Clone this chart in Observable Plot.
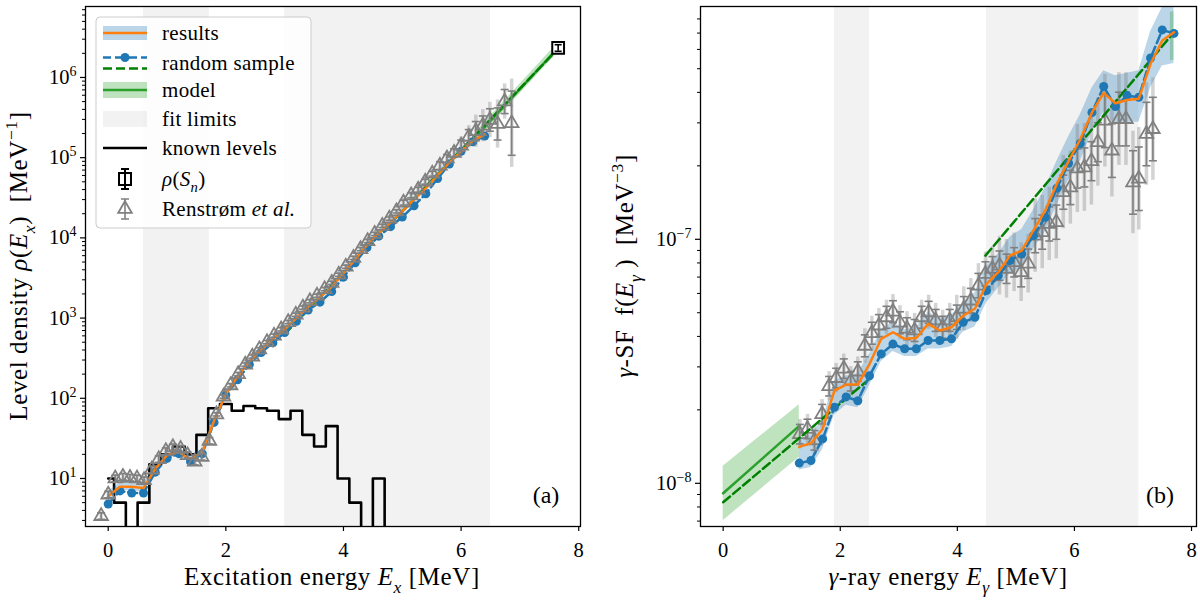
<!DOCTYPE html>
<html>
<head>
<meta charset="utf-8">
<script src="https://cdn.jsdelivr.net/npm/d3@7"></script>
<script src="https://cdn.jsdelivr.net/npm/@observablehq/plot@0.6"></script>
<style>
  html, body { margin: 0; padding: 0; background: #fff; }
  #figure { display: flex; width: 1200px; height: 600px; }
  #figure svg { display: block; }
</style>
</head>
<body>
<div id="figure"></div>
<script>
// ---------- shared styling ----------
const FONT = '"Liberation Serif", "DejaVu Serif", "Times New Roman", serif';
const TAB_BLUE = "#1f77b4", TAB_ORANGE = "#ff7f0e", TAB_GREEN = "#2ca02c", GREEN = "#008000", GRAY = "#808080";

// ---------- (a) level density ----------
// Renstrøm et al. level density (MeV^-1) with statistical / total uncertainty in dex
const ldTriE = [-0.12, 0.00, 0.12, 0.25, 0.37, 0.49, 0.61, 0.74, 0.86, 0.98, 1.10, 1.23, 1.35, 1.47, 1.59, 1.72, 1.84, 1.96, 2.08, 2.21, 2.33, 2.45, 2.57, 2.70, 2.82, 2.94, 3.06, 3.19, 3.31, 3.43, 3.55, 3.68, 3.80, 3.92, 4.04, 4.17, 4.29, 4.41, 4.53, 4.66, 4.78, 4.90, 5.02, 5.15, 5.27, 5.39, 5.51, 5.64, 5.76, 5.88, 6.00, 6.13, 6.25, 6.37, 6.49, 6.62, 6.74, 6.86];
const ldTriRho = [3.4, 6.3, 10, 10.5, 10.2, 10, 9.5, 12.9, 17.4, 21.9, 24.5, 23.4, 19.5, 16.2, 18.6, 29.5, 63, 105, 145, 200, 263, 331, 407, 501, 603, 724, 891, 1100, 1350, 1620, 1900, 2290, 2750, 3470, 4370, 5620, 7240, 9120, 1.12e4, 1.41e4, 1.74e4, 2.14e4, 2.75e4, 3.39e4, 3.98e4, 5.01e4, 6.31e4, 7.94e4, 9.77e4, 1.15e5, 1.41e5, 1.82e5, 2.14e5, 2.51e5, 2.95e5, 2.63e5, 5.01e5, 2.69e5];
const ldTriErr = [0.04, 0.04, 0.04, 0.04, 0.04, 0.04, 0.04, 0.04, 0.04, 0.04, 0.04, 0.04, 0.04, 0.04, 0.04, 0.04, 0.02, 0.02, 0.02, 0.02, 0.02, 0.02, 0.02, 0.02, 0.02, 0.02, 0.02, 0.02, 0.02, 0.02, 0.02, 0.02, 0.02, 0.02, 0.02, 0.02, 0.02, 0.02, 0.02, 0.02, 0.02, 0.02, 0.03, 0.03, 0.03, 0.03, 0.03, 0.05, 0.05, 0.05, 0.07, 0.09, 0.12, 0.12, 0.14, 0.20, 0.15, 0.40];
const ldTriErrTot = [0.05, 0.05, 0.05, 0.05, 0.05, 0.05, 0.05, 0.05, 0.05, 0.05, 0.05, 0.05, 0.05, 0.05, 0.05, 0.05, 0.03, 0.03, 0.03, 0.03, 0.03, 0.03, 0.03, 0.03, 0.03, 0.03, 0.03, 0.03, 0.03, 0.03, 0.03, 0.03, 0.03, 0.03, 0.03, 0.03, 0.03, 0.03, 0.03, 0.03, 0.03, 0.03, 0.05, 0.05, 0.05, 0.05, 0.05, 0.08, 0.08, 0.08, 0.11, 0.14, 0.20, 0.20, 0.22, 0.30, 0.22, 0.55];

// extracted level density: result, its uncertainty (dex) and one random sample
const ldResE = [0.0, 0.2, 0.4, 0.6, 0.8, 1.0, 1.2, 1.4, 1.6, 1.8, 2.0, 2.2, 2.4, 2.6, 2.8, 3.0, 3.2, 3.4, 3.6, 3.8, 4.0, 4.2, 4.4, 4.6, 4.8, 5.0, 5.2, 5.4, 5.6, 5.8, 6.0, 6.2, 6.4];
const ldResRho = [6.0, 7.9, 7.9, 7.6, 13.2, 19.5, 21.4, 17.4, 21.4, 52.5, 112, 186, 288, 407, 550, 724, 1000, 1380, 1820, 2450, 3630, 5370, 8130, 1.15e4, 1.55e4, 2.14e4, 3.02e4, 4.17e4, 6.03e4, 8.71e4, 1.20e5, 1.62e5, 1.95e5];
const ldResErr = [0.06, 0.05, 0.05, 0.05, 0.05, 0.04, 0.04, 0.04, 0.04, 0.04, 0.04, 0.03, 0.03, 0.03, 0.03, 0.03, 0.03, 0.03, 0.03, 0.03, 0.03, 0.03, 0.03, 0.03, 0.04, 0.04, 0.04, 0.04, 0.04, 0.04, 0.04, 0.04, 0.05];
const ldSampleRho = [4.8, 7.0, 6.6, 6.6, 12.0, 17.8, 20.4, 16.2, 20.4, 50, 110, 170, 263, 372, 490, 661, 912, 1260, 1580, 2140, 3240, 4900, 7590, 1.05e4, 1.38e4, 1.82e4, 2.51e4, 3.55e4, 5.50e4, 8.32e4, 1.20e5, 1.58e5, 1.86e5];

// known discrete levels, per MeV, in 0.2 MeV bins
const levelBinE = [0.0, 0.2, 0.4, 0.6, 0.8, 1.0, 1.2, 1.4, 1.6, 1.8, 2.0, 2.2, 2.4, 2.6, 2.8, 3.0, 3.2, 3.4, 3.6, 3.8, 4.0, 4.2, 4.4, 4.6, 4.8];
const levelCounts = [10, 5, 0, 5, 15, 20, 25, 20, 35, 75, 85, 70, 80, 75, 70, 55, 70, 35, 25, 45, 10, 5, 0, 10, 0];

// constant-temperature model and its random-sample counterpart
const ldModelE = [6.3, 7.65];
const ldModelRho = [2.0e5, 2.34e6];
const ldModelLo = [1.75e5, 2.05e6];
const ldModelHi = [2.3e5, 2.7e6];
const ldSampleModelE = [3.0, 7.65];
const ldSampleModelRho = [631, 2.29e6];

// level density at the neutron separation energy
const rhoSnE = [7.65];
const rhoSn = [2.34e6];
const rhoSnErr = [2.2e5];

// fit windows
const ldFitLo = [0.6, 3.0];
const ldFitHi = [1.72, 6.5];

// ---------- (b) gamma strength function ----------
const gsfTriE = [1.31, 1.44, 1.56, 1.69, 1.81, 1.93, 2.06, 2.18, 2.30, 2.42, 2.54, 2.66, 2.79, 2.90, 3.02, 3.14, 3.27, 3.39, 3.51, 3.63, 3.75, 3.87, 3.99, 4.11, 4.23, 4.36, 4.48, 4.60, 4.72, 4.84, 4.97, 5.09, 5.21, 5.33, 5.45, 5.57, 5.69, 5.81, 5.93, 6.05, 6.17, 6.29, 6.40, 6.52, 6.64, 6.76, 6.88, 7.00, 7.10, 7.23, 7.34];
const gsfTri = [1.59e-8, 1.67e-8, 1.50e-8, 1.92e-8, 2.50e-8, 2.70e-8, 2.95e-8, 2.62e-8, 2.87e-8, 3.66e-8, 4.12e-8, 4.43e-8, 4.79e-8, 5.05e-8, 4.55e-8, 4.30e-8, 4.23e-8, 4.79e-8, 5.02e-8, 4.65e-8, 4.36e-8, 4.65e-8, 4.79e-8, 5.19e-8, 5.61e-8, 6.46e-8, 7.21e-8, 7.57e-8, 7.80e-8, 7.57e-8, 8.05e-8, 7.33e-8, 7.94e-8, 1.035e-7, 1.07e-7, 1.156e-7, 1.175e-7, 1.56e-7, 1.63e-7, 1.95e-7, 1.97e-7, 2.09e-7, 2.50e-7, 3.06e-7, 2.31e-7, 3.11e-7, 3.11e-7, 1.71e-7, 1.77e-7, 2.70e-7, 2.83e-7];
const gsfTriErr = [0.04, 0.04, 0.04, 0.04, 0.04, 0.04, 0.04, 0.04, 0.04, 0.045, 0.045, 0.045, 0.045, 0.045, 0.045, 0.045, 0.045, 0.045, 0.045, 0.045, 0.045, 0.045, 0.05, 0.05, 0.05, 0.05, 0.05, 0.05, 0.06, 0.06, 0.06, 0.06, 0.06, 0.07, 0.07, 0.07, 0.07, 0.07, 0.07, 0.08, 0.08, 0.08, 0.08, 0.11, 0.11, 0.11, 0.11, 0.13, 0.13, 0.13, 0.13];
const gsfTriErrTot = [0.06, 0.06, 0.06, 0.06, 0.06, 0.06, 0.06, 0.06, 0.06, 0.07, 0.07, 0.07, 0.07, 0.07, 0.07, 0.07, 0.07, 0.07, 0.07, 0.07, 0.07, 0.07, 0.09, 0.09, 0.09, 0.09, 0.09, 0.09, 0.12, 0.12, 0.12, 0.12, 0.12, 0.15, 0.15, 0.15, 0.15, 0.15, 0.15, 0.18, 0.18, 0.18, 0.18, 0.19, 0.19, 0.19, 0.19, 0.21, 0.21, 0.21, 0.21];

const gsfResE = [1.3, 1.5, 1.7, 1.9, 2.1, 2.3, 2.5, 2.7, 2.9, 3.1, 3.3, 3.5, 3.7, 3.9, 4.1, 4.3, 4.5, 4.7, 4.9, 5.1, 5.3, 5.5, 5.7, 5.9, 6.1, 6.3, 6.5, 6.7, 6.9, 7.1, 7.3, 7.5, 7.7];
const gsfRes = [1.41e-8, 1.46e-8, 1.67e-8, 2.40e-8, 2.54e-8, 2.54e-8, 3.08e-8, 3.91e-8, 4.16e-8, 3.91e-8, 3.94e-8, 4.50e-8, 4.23e-8, 4.36e-8, 4.86e-8, 5.19e-8, 6.56e-8, 7.33e-8, 8.57e-8, 8.99e-8, 1.087e-7, 1.31e-7, 1.69e-7, 2.09e-7, 2.57e-7, 3.31e-7, 3.98e-7, 3.61e-7, 3.72e-7, 3.77e-7, 5.24e-7, 6.52e-7, 7.05e-7];
const gsfResLo = [1.135e-8, 1.16e-8, 1.38e-8, 1.905e-8, 2.09e-8, 2.04e-8, 2.51e-8, 3.16e-8, 3.47e-8, 3.31e-8, 3.31e-8, 3.55e-8, 3.55e-8, 3.63e-8, 4.17e-8, 4.37e-8, 5.50e-8, 6.31e-8, 7.24e-8, 7.59e-8, 9.12e-8, 1.072e-7, 1.38e-7, 1.74e-7, 2.09e-7, 2.75e-7, 3.31e-7, 2.95e-7, 3.02e-7, 3.02e-7, 4.17e-7, 5.13e-7, 5.25e-7];
const gsfResHi = [1.496e-8, 1.585e-8, 1.82e-8, 2.63e-8, 2.75e-8, 2.82e-8, 3.39e-8, 4.27e-8, 4.57e-8, 4.27e-8, 4.37e-8, 5.01e-8, 4.79e-8, 4.90e-8, 5.50e-8, 6.03e-8, 7.76e-8, 8.71e-8, 1.023e-7, 1.096e-7, 1.318e-7, 1.622e-7, 2.09e-7, 2.63e-7, 3.24e-7, 4.17e-7, 4.90e-7, 4.68e-7, 4.79e-7, 4.90e-7, 7.08e-7, 8.91e-7, 9.55e-7];
const gsfSample = [1.21e-8, 1.24e-8, 1.52e-8, 2.05e-8, 2.26e-8, 2.18e-8, 2.76e-8, 3.39e-8, 3.72e-8, 3.56e-8, 3.56e-8, 3.85e-8, 3.85e-8, 3.91e-8, 4.57e-8, 4.79e-8, 6.17e-8, 7.10e-8, 8.18e-8, 8.71e-8, 1.035e-7, 1.23e-7, 1.62e-7, 2.05e-7, 2.47e-7, 3.31e-7, 4.23e-7, 3.50e-7, 3.88e-7, 3.82e-7, 5.53e-7, 7.21e-7, 6.98e-7];

// model strength (extrapolations) and random-sample model
const gsfModelE = [0.0, 1.3, 7.64, 7.70];
const gsfModel = [9.1e-9, 1.72e-8, 6.9e-7, 7.0e-7];
const gsfModelLo = [7.03e-9, 1.28e-8, 5.4e-7, 5.4e-7];
const gsfModelHi = [1.175e-8, 2.10e-8, 8.5e-7, 8.6e-7];
const gsfModelPart = ["low", "low", "high", "high"];
const gsfSampleModelE = [0.0, 2.5, 4.48, 7.7];
const gsfSampleModel = [8.36e-9, 2.68e-8, 8.57e-8, 7.05e-7];
const gsfSampleModelPart = ["low", "low", "high", "high"];

const gsfFitLo = [1.9, 4.5];
const gsfFitHi = [2.5, 7.1];

// ---------- helpers ----------
const rows = (cols) => {
  const keys = Object.keys(cols);
  return cols[keys[0]].map((_, i) => Object.fromEntries(keys.map(k => [k, cols[k][i]])));
};
// horizontal bar used as an error-bar cap
const capSymbol = { draw(ctx, size) { const w = Math.sqrt(size / Math.PI); ctx.moveTo(-w, 0); ctx.lineTo(w, 0); } };

function minorTicks(lo, hi) {
  const out = [];
  for (let e = Math.floor(Math.log10(lo)); e <= Math.ceil(Math.log10(hi)); e++)
    for (let m = 2; m <= 9; m++) { const v = m * 10 ** e; if (v >= lo && v <= hi) out.push(v); }
  return out;
}
const powFormat = d => `10^${Math.round(Math.log10(d)).toString().replace("-", "\u2212")}`;

function errorBars(data, {x, y, dex, tot, color}) {
  return [
    Plot.ruleX(data, {x, y1: d => d[y] / 10 ** d[tot], y2: d => d[y] * 10 ** d[tot], stroke: color, strokeOpacity: 0.35, strokeWidth: 3.5}),
    Plot.ruleX(data, {x, y1: d => d[y] / 10 ** d[dex], y2: d => d[y] * 10 ** d[dex], stroke: color, strokeWidth: 1.6}),
    Plot.dot(data, {x, y: d => d[y] / 10 ** d[dex], symbol: capSymbol, r: 4, stroke: color, fill: "none", strokeWidth: 1.6}),
    Plot.dot(data, {x, y: d => d[y] * 10 ** d[dex], symbol: capSymbol, r: 4, stroke: color, fill: "none", strokeWidth: 1.6}),
    Plot.dot(data, {x, y, symbol: "triangle2", r: 6.5, stroke: color, fill: "none", strokeWidth: 1.8})
  ];
}

function axes(ticksMajor, yDomain) {
  return [
    Plot.axisX({ticks: [0, 2, 4, 6, 8], tickSize: 5, tickPadding: 11, tickFormat: d => String(d), label: null, strokeWidth: 1.2}),
    Plot.axisY({ticks: ticksMajor, tickSize: 5, tickPadding: 4, tickFormat: powFormat, label: null, strokeWidth: 1.2}),
    Plot.axisY({ticks: minorTicks(yDomain[0], yDomain[1]).filter(v => !ticksMajor.includes(v)), tickSize: 3, tickFormat: () => "", label: null, strokeWidth: 1}),
    Plot.frame({stroke: "black", strokeWidth: 1.3})
  ];
}

// rich text with italic / sub / superscript runs
function rich(g, x, y, parts, {size = 21, anchor = "start", rotate = 0, spacing = 0} = {}) {
  const t = g.append("text").attr("x", x).attr("y", y).attr("font-size", size)
    .attr("text-anchor", anchor).attr("font-family", FONT).attr("fill", "black")
    .style("white-space", "pre");
  if (spacing) t.attr("letter-spacing", spacing);
  if (rotate) t.attr("transform", `rotate(${rotate},${x},${y})`);
  let shift = 0;
  for (const p of parts) {
    const s = p.sub ? 0.3 * size : p.sup ? -0.4 * size : 0;
    const ts = t.append("tspan").text(p.t);
    if (s !== shift) ts.attr("dy", s - shift);
    shift = s;
    if (p.sub || p.sup) ts.attr("font-size", size * 0.7);
    if (p.i) ts.attr("font-style", "italic");
  }
  return t;
}

function superscriptTicks(svg) {
  d3.select(svg).selectAll('g[aria-label="y-axis tick label"] text').each(function () {
    const s = this.textContent;
    if (!s.includes("^")) return;
    const [b, e] = s.split("^");
    const t = d3.select(this);
    t.text("");
    t.append("tspan").text(b);
    t.append("tspan").attr("dy", -8).attr("font-size", 14).text(e);
  });
}

const STYLE = {fontFamily: FONT, fontSize: "20.5px", background: "transparent", color: "black"};

// ---------- panel (a) ----------
const yA = [2.52, 7.67e6];
const fitA = rows({lo: ldFitLo, hi: ldFitHi});
const levels = rows({E: levelBinE, n: levelCounts});
const ldTri = rows({E: ldTriE, rho: ldTriRho, err: ldTriErr, tot: ldTriErrTot});
const ldRes = rows({E: ldResE, rho: ldResRho, err: ldResErr, sample: ldSampleRho});
const ldModel = rows({E: ldModelE, rho: ldModelRho, lo: ldModelLo, hi: ldModelHi});
const ldSampleModel = rows({E: ldSampleModelE, rho: ldSampleModelRho});
const sn = rows({E: rhoSnE, rho: rhoSn, err: rhoSnErr});

const left = Plot.plot({
  width: 600, height: 600,
  marginLeft: 85, marginRight: 20, marginTop: 6, marginBottom: 74,
  style: STYLE,
  x: {domain: [-0.386, 8.03], label: null},
  y: {type: "log", domain: yA, label: null},
  marks: [
    Plot.rect(fitA, {x1: "lo", x2: "hi", fill: GRAY, fillOpacity: 0.1}),
    // empty bins drop below the frame
    Plot.line(levels, {x: "E", y: d => (d.n > 0 ? d.n : 0.01), curve: "step", stroke: "black", strokeWidth: 2.6, clip: true}),
    Plot.areaY(ldRes, {x: "E", y1: d => d.rho / 10 ** d.err, y2: d => d.rho * 10 ** d.err, fill: TAB_BLUE, fillOpacity: 0.3}),
    Plot.areaY(ldModel, {x: "E", y1: "lo", y2: "hi", fill: TAB_GREEN, fillOpacity: 0.3}),
    Plot.line(ldModel, {x: "E", y: "rho", stroke: TAB_GREEN, strokeWidth: 2.5}),
    Plot.line(ldSampleModel, {x: "E", y: "rho", stroke: GREEN, strokeWidth: 2.5, strokeDasharray: "9,4"}),
    Plot.line(ldRes, {x: "E", y: "sample", stroke: TAB_BLUE, strokeWidth: 2.5, strokeDasharray: "9,4"}),
    Plot.dot(ldRes, {x: "E", y: "sample", fill: TAB_BLUE, r: 4.5}),
    Plot.line(ldRes, {x: "E", y: "rho", stroke: TAB_ORANGE, strokeWidth: 2.5}),
    ...errorBars(ldTri, {x: "E", y: "rho", dex: "err", tot: "tot", color: GRAY}),
    Plot.dot(sn, {x: "E", y: "rho", symbol: "square2", r: 7.5, stroke: "black", fill: "white", strokeWidth: 2}),
    Plot.ruleX(sn, {x: "E", y1: d => d.rho - d.err, y2: d => d.rho + d.err, stroke: "black", strokeWidth: 1.6}),
    Plot.dot(sn, {x: "E", y: d => d.rho - d.err, symbol: capSymbol, r: 3.5, stroke: "black", fill: "none", strokeWidth: 1.6}),
    Plot.dot(sn, {x: "E", y: d => d.rho + d.err, symbol: capSymbol, r: 3.5, stroke: "black", fill: "none", strokeWidth: 1.6}),
    ...axes([1e1, 1e2, 1e3, 1e4, 1e5, 1e6], yA)
  ]
});

// ---------- panel (b) ----------
const yB = [10 ** -8.177, 10 ** -6.046];
const fitB = rows({lo: gsfFitLo, hi: gsfFitHi});
const gsfTriRows = rows({E: gsfTriE, f: gsfTri, err: gsfTriErr, tot: gsfTriErrTot});
const gsfResRows = rows({E: gsfResE, f: gsfRes, lo: gsfResLo, hi: gsfResHi, sample: gsfSample});
const gsfModelRows = rows({E: gsfModelE, f: gsfModel, lo: gsfModelLo, hi: gsfModelHi, part: gsfModelPart});
const gsfSampleModelRows = rows({E: gsfSampleModelE, f: gsfSampleModel, part: gsfSampleModelPart});

const right = Plot.plot({
  width: 600, height: 600,
  marginLeft: 100, marginRight: 4, marginTop: 6, marginBottom: 74,
  style: STYLE,
  x: {domain: [-0.387, 8.085], label: null},
  y: {type: "log", domain: yB, label: null},
  marks: [
    Plot.rect(fitB, {x1: "lo", x2: "hi", fill: GRAY, fillOpacity: 0.1}),
    Plot.areaY(gsfResRows, {x: "E", y1: "lo", y2: "hi", fill: TAB_BLUE, fillOpacity: 0.3, clip: true}),
    Plot.areaY(gsfModelRows, {x: "E", y1: "lo", y2: "hi", z: "part", fill: TAB_GREEN, fillOpacity: 0.3, clip: true}),
    Plot.line(gsfModelRows, {x: "E", y: "f", z: "part", stroke: TAB_GREEN, strokeWidth: 2.5}),
    ...errorBars(gsfTriRows, {x: "E", y: "f", dex: "err", tot: "tot", color: GRAY}),
    Plot.line(gsfSampleModelRows, {x: "E", y: "f", z: "part", stroke: GREEN, strokeWidth: 2.5, strokeDasharray: "9,4"}),
    Plot.line(gsfResRows, {x: "E", y: "sample", stroke: TAB_BLUE, strokeWidth: 2.5, strokeDasharray: "9,4"}),
    Plot.dot(gsfResRows, {x: "E", y: "sample", fill: TAB_BLUE, r: 4.5}),
    Plot.line(gsfResRows, {x: "E", y: "f", stroke: TAB_ORANGE, strokeWidth: 2.5}),
    ...axes([1e-8, 1e-7], yB)
  ]
});

superscriptTicks(left);
superscriptTicks(right);

// ---------- titles, panel tags, legend ----------
const NB = "\u00A0";
const gl = d3.select(left).append("g");
rich(gl, 332, 585, [{t: "Excitation energy "}, {t: "E", i: true}, {t: "x", i: true, sub: true}, {t: " [MeV]"}], {anchor: "middle", size: 25, spacing: 0.6});
rich(gl, 27, 266, [{t: "Level density "}, {t: "\u03C1", i: true}, {t: "("}, {t: "E", i: true}, {t: "x", i: true, sub: true}, {t: ")" + NB + NB + "[MeV"}, {t: "\u22121", sup: true}, {t: "]"}], {anchor: "middle", rotate: -90, size: 25, spacing: 0.6});
rich(gl, 546, 503, [{t: "(a)"}], {anchor: "middle", size: 24});

const gr = d3.select(right).append("g");
rich(gr, 348, 585, [{t: "\u03B3", i: true}, {t: "-ray energy "}, {t: "E", i: true}, {t: "\u03B3", i: true, sub: true}, {t: " [MeV]"}], {anchor: "middle", size: 25, spacing: 0.6});
rich(gr, 33, 266, [{t: "\u03B3", i: true}, {t: "-SF" + NB + NB + "f("}, {t: "E", i: true}, {t: "\u03B3", i: true, sub: true}, {t: NB + ")" + NB + NB + "[MeV"}, {t: "\u22123", sup: true}, {t: "]"}], {anchor: "middle", rotate: -90, size: 25, spacing: 0.6});
rich(gr, 560, 503, [{t: "(b)"}], {anchor: "middle", size: 24});

// legend
const lg = d3.select(left).append("g");
lg.append("rect").attr("x", 96).attr("y", 17).attr("width", 215).attr("height", 211).attr("rx", 4)
  .attr("fill", "white").attr("fill-opacity", 0.8).attr("stroke", "#cccccc").attr("stroke-width", 1);
const hx0 = 103, hx1 = 147, hc = 125, tx = 162;
const rowY = [33, 62.5, 90, 119, 148, 179, 209];
const line = (y, color, dash, w = 2.5) => lg.append("line").attr("x1", hx0).attr("x2", hx1).attr("y1", y).attr("y2", y)
  .attr("stroke", color).attr("stroke-width", w).attr("stroke-dasharray", dash || null);
// results
lg.append("rect").attr("x", hx0).attr("y", rowY[0] - 7).attr("width", hx1 - hx0).attr("height", 14).attr("fill", TAB_BLUE).attr("fill-opacity", 0.3);
line(rowY[0], TAB_ORANGE);
// random sample
lg.append("line").attr("x1", hx0).attr("x2", hx1).attr("y1", rowY[1] - 5).attr("y2", rowY[1] - 5)
  .attr("stroke", TAB_BLUE).attr("stroke-width", 2.5).attr("stroke-dasharray", "9,4").attr("stroke-dashoffset", 1);
lg.append("circle").attr("cx", hc).attr("cy", rowY[1] - 5).attr("r", 4.5).attr("fill", TAB_BLUE);
line(rowY[1] + 6, GREEN, "9,4");
// model
lg.append("rect").attr("x", hx0).attr("y", rowY[2] - 8).attr("width", hx1 - hx0).attr("height", 16).attr("fill", TAB_GREEN).attr("fill-opacity", 0.3);
line(rowY[2], TAB_GREEN);
// fit limits
lg.append("rect").attr("x", hx0).attr("y", rowY[3] - 8).attr("width", hx1 - hx0).attr("height", 16).attr("fill", GRAY).attr("fill-opacity", 0.1);
// known levels
line(rowY[4], "black");
// rho(Sn)
lg.append("rect").attr("x", hc - 6).attr("y", rowY[5] - 6).attr("width", 12).attr("height", 12).attr("fill", "white").attr("stroke", "black").attr("stroke-width", 2);
lg.append("path").attr("d", `M${hc},${rowY[5] - 10}V${rowY[5] + 10}M${hc - 4},${rowY[5] - 10}H${hc + 4}M${hc - 4},${rowY[5] + 10}H${hc + 4}`)
  .attr("stroke", "black").attr("stroke-width", 2).attr("fill", "none");
// Renstrøm
lg.append("path").attr("d", `M${hc},${rowY[6] - 10}V${rowY[6] + 10}M${hc - 4},${rowY[6] - 10}H${hc + 4}M${hc - 4},${rowY[6] + 10}H${hc + 4}`)
  .attr("stroke", GRAY).attr("stroke-width", 1.6).attr("fill", "none");
lg.append("path").attr("d", d3.symbol(d3.symbolTriangle2, Math.PI * 6.5 * 6.5)()).attr("transform", `translate(${hc},${rowY[6]})`)
  .attr("stroke", GRAY).attr("stroke-width", 1.8).attr("fill", "none");

const labels = [
  [{t: "results"}],
  [{t: "random sample"}],
  [{t: "model"}],
  [{t: "fit limits"}],
  [{t: "known levels"}],
  [{t: "\u03C1", i: true}, {t: "("}, {t: "S", i: true}, {t: "n", i: true, sub: true}, {t: ")"}],
  [{t: "Renstr\u00F8m "}, {t: "et al.", i: true}]
];
labels.forEach((parts, i) => rich(lg, tx, rowY[i] + 7, parts, {size: 21, spacing: 0.3}));

const fig = document.getElementById("figure");
fig.append(left, right);
</script>
</body>
</html>
